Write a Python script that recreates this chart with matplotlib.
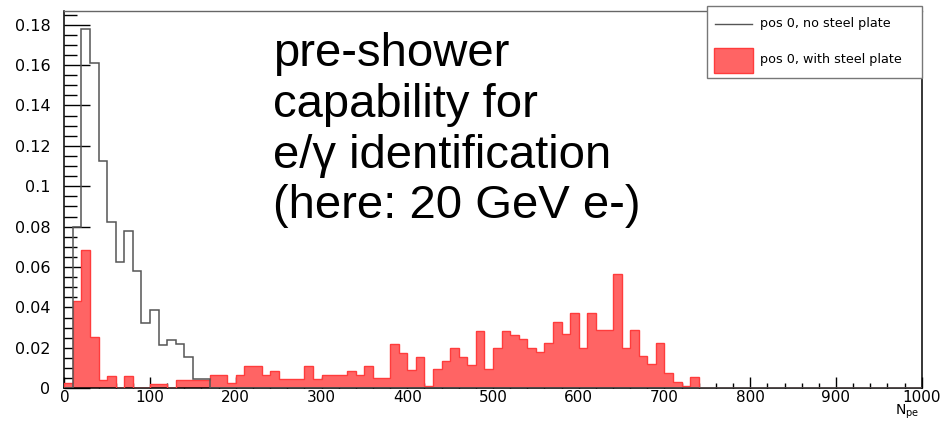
import numpy as np
import matplotlib
matplotlib.use("Agg")
import matplotlib.pyplot as plt
from matplotlib.patches import Rectangle
from matplotlib.lines import Line2D
from matplotlib.ticker import MultipleLocator

# histogram bins: 100 bins of width 10 from 0 to 1000
bin_edges = np.arange(0, 1001, 10)

# pos 0, no steel plate (normalised counts)
no_plate = [0.0, 0.080, 0.1777, 0.161, 0.1127, 0.0825, 0.0627, 0.078, 0.058, 0.0325,
            0.0388, 0.0215, 0.024, 0.022, 0.0153, 0.0045, 0.0045] + [0.0] * 83

# pos 0, with steel plate
with_plate = [0.0025, 0.043, 0.0685, 0.0256, 0.004, 0.006, 0.0, 0.006, 0.0, 0.0,
              0.002, 0.002, 0.0, 0.004, 0.004, 0.004, 0.004, 0.0066, 0.0066, 0.0025,
              0.0066, 0.011, 0.011, 0.0066, 0.0087, 0.0045, 0.0045, 0.0045, 0.011, 0.0048,
              0.0066, 0.0066, 0.0066, 0.0087, 0.0068, 0.011, 0.005, 0.005, 0.0218, 0.0175,
              0.009, 0.0155, 0.001, 0.0094, 0.0135, 0.020, 0.0157, 0.0116, 0.0285, 0.0096,
              0.020, 0.0285, 0.0264, 0.0243, 0.020, 0.018, 0.0223, 0.033, 0.0267, 0.0373,
              0.020, 0.0373, 0.0289, 0.0289, 0.0566, 0.020, 0.0289, 0.016, 0.0119, 0.0224,
              0.0074, 0.0033, 0.0013, 0.0054] + [0.0] * 26

labels = ['pos 0, no steel plate', 'pos 0, with steel plate']
note = 'pre-shower\ncapability for\ne/\u03b3 identification\n(here: 20 GeV e-)'

red_face = '#ff6464'
red_edge = '#ff3c3c'
grey_line = '#555555'

fig = plt.figure(figsize=(9.5, 4.21), dpi=100)
ax = fig.add_axes([0.0677, 0.0777, 0.9025, 0.8969])

ax.stairs(with_plate, bin_edges, fill=True, color=red_face, zorder=2)
ax.stairs(with_plate, bin_edges, color=red_edge, linewidth=1.0, zorder=3)
ax.stairs(no_plate, bin_edges, color=grey_line, linewidth=1.1, zorder=4)

ax.set_xlim(0, 1000)
ax.set_ylim(0, 0.1869)

ax.xaxis.set_major_locator(MultipleLocator(100))
ax.xaxis.set_minor_locator(MultipleLocator(20))
ax.yaxis.set_major_locator(MultipleLocator(0.02))
ax.yaxis.set_minor_locator(MultipleLocator(0.005))
ax.yaxis.set_major_formatter(plt.FuncFormatter(lambda v, p: '0' if abs(v) < 1e-9 else ('%.2f' % v).rstrip('0')))

ax.tick_params(axis='y', which='major', direction='in', length=18.5, width=1.0,
               pad=10, labelsize=11.5, colors='black')
ax.tick_params(axis='y', which='minor', direction='in', length=9.3, width=1.0)
ax.tick_params(axis='x', which='major', direction='in', length=8, width=1.0,
               pad=1.0, labelsize=11)
ax.tick_params(axis='x', which='minor', direction='in', length=3.6, width=1.0)
for lab in ax.get_xticklabels() + ax.get_yticklabels():
    lab.set_family('DejaVu Sans')

for side in ['left', 'bottom', 'right']:
    ax.spines[side].set_color('black')
    ax.spines[side].set_linewidth(1.1)
ax.spines['top'].set_color('#666666')
ax.spines['top'].set_linewidth(1.0)

# axis title N_pe at the right end, below the last tick label
fig.text(0.968, 0.0, r'N$_{\mathrm{pe}}$', ha='right', va='bottom',
         fontsize=10, family='DejaVu Sans')

# legend box drawn in figure pixels
W, H = 950.0, 421.0
fig.patches.append(Rectangle((707 / W, 1 - 78 / H), 215 / W, 72 / H,
                             transform=fig.transFigure, facecolor='white',
                             edgecolor='#777777', linewidth=1.0, zorder=5))
fig.lines.append(Line2D([715 / W, 752 / W], [1 - 24 / H, 1 - 24 / H],
                        transform=fig.transFigure, color=grey_line, linewidth=1.0, zorder=6))
fig.patches.append(Rectangle((714 / W, 1 - 73 / H), 39 / W, 25 / H,
                             transform=fig.transFigure, facecolor=red_face,
                             edgecolor=red_edge, linewidth=1.0, zorder=6))
fig.text(760 / W, 1 - 24 / H, labels[0], ha='left', va='center', fontsize=9.2,
         family='DejaVu Sans', zorder=7)
fig.text(760 / W, 1 - 60 / H, labels[1], ha='left', va='center', fontsize=9.2,
         family='DejaVu Sans', zorder=7)

fig.text(273 / W, 1 - 32 / H, note, ha='left', va='top', fontsize=34,
         family='Liberation Sans', linespacing=1.2)

fig.savefig('out.png', dpi=100)
